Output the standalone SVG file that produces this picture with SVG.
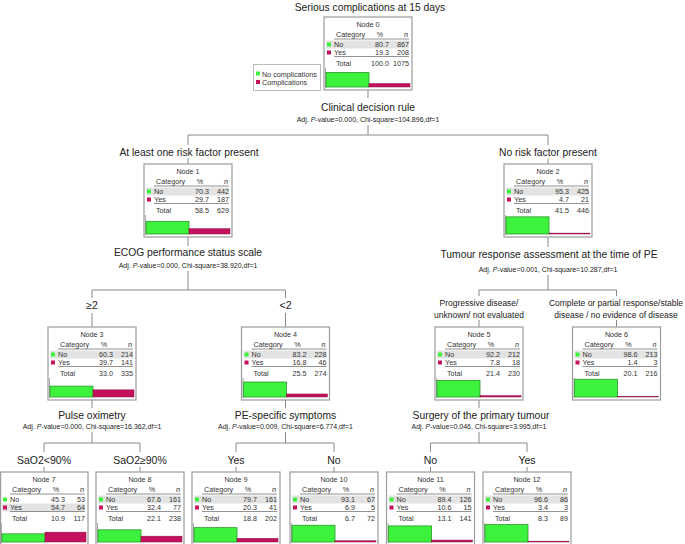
<svg xmlns="http://www.w3.org/2000/svg" width="685" height="544" viewBox="0 0 685 544">
<style>
text{font-family:"Liberation Sans",Arial,Helvetica,sans-serif;fill:#222}
.box{fill:#fff;stroke:#9c9c9c;stroke-width:1.2}
.nt{font-size:7.2px;fill:#333}
.c{text-anchor:middle}
.r{text-anchor:end}
.i{font-style:italic}
.band{fill:#e3e3e3}
.ul{stroke:#777;stroke-width:0.8}
.g{fill:#3df23d;stroke:#2a9a2a;stroke-width:0.8}
.m{fill:#c4115d;stroke:#8a0c42;stroke-width:0.5}
.gs{fill:#3df23d}
.ms{fill:#c4115d}
.ax{stroke:#aaa;stroke-width:1}
#connectors line{stroke:#8a8a8a;stroke-width:1}
.lbl{font-size:10.3px;text-anchor:middle}
.adj{font-size:7px;text-anchor:middle}
.br{font-size:10.5px;text-anchor:middle}
.br2{font-size:8.5px;text-anchor:middle}
</style>

<text class="lbl" x="370" y="11">Serious complications at 15 days</text>

<g id="connectors">
<line x1="368" y1="90" x2="368" y2="98"/>
<line x1="368" y1="125" x2="368" y2="135"/>
<line x1="188" y1="135" x2="548" y2="135"/>
<line x1="188" y1="135" x2="188" y2="145"/>
<line x1="188" y1="158" x2="188" y2="164"/>
<line x1="548" y1="135" x2="548" y2="145"/>
<line x1="548" y1="159" x2="548" y2="164"/>
<line x1="188" y1="237" x2="188" y2="246"/>
<line x1="188" y1="271" x2="188" y2="290"/>
<line x1="92" y1="290" x2="285.5" y2="290"/>
<line x1="92" y1="290" x2="92" y2="298"/>
<line x1="92" y1="313" x2="92" y2="327"/>
<line x1="285.5" y1="290" x2="285.5" y2="298"/>
<line x1="285.5" y1="313" x2="285.5" y2="327"/>
<line x1="548" y1="237" x2="548" y2="247"/>
<line x1="548" y1="275" x2="548" y2="290"/>
<line x1="479" y1="290" x2="616.5" y2="290"/>
<line x1="479" y1="290" x2="479" y2="296"/>
<line x1="479" y1="320" x2="479" y2="327"/>
<line x1="616.5" y1="290" x2="616.5" y2="296"/>
<line x1="616.5" y1="320" x2="616.5" y2="327"/>
<line x1="92" y1="400" x2="92" y2="408"/>
<line x1="92" y1="432" x2="92" y2="443"/>
<line x1="44" y1="443" x2="140" y2="443"/>
<line x1="44" y1="443" x2="44" y2="452"/>
<line x1="44" y1="467" x2="44" y2="472"/>
<line x1="140" y1="443" x2="140" y2="452"/>
<line x1="140" y1="467" x2="140" y2="472"/>
<line x1="285.5" y1="400" x2="285.5" y2="408"/>
<line x1="285.5" y1="432" x2="285.5" y2="443"/>
<line x1="236" y1="443" x2="334" y2="443"/>
<line x1="236" y1="443" x2="236" y2="452"/>
<line x1="236" y1="467" x2="236" y2="472"/>
<line x1="334" y1="443" x2="334" y2="452"/>
<line x1="334" y1="467" x2="334" y2="472"/>
<line x1="479" y1="400" x2="479" y2="408"/>
<line x1="479" y1="432" x2="479" y2="443"/>
<line x1="430.5" y1="443" x2="527" y2="443"/>
<line x1="430.5" y1="443" x2="430.5" y2="452"/>
<line x1="430.5" y1="467" x2="430.5" y2="472"/>
<line x1="527" y1="443" x2="527" y2="452"/>
<line x1="527" y1="467" x2="527" y2="472"/>
</g>

<g id="labels">
<text class="lbl" x="368" y="111">Clinical decision rule</text>
<text class="adj" x="368" y="121.5">Adj. <tspan class="i">P</tspan>-value=0.000, Chi-square=104.896,df=1</text>
<text class="lbl" x="189" y="155.5">At least one risk factor present</text>
<text class="lbl" x="548" y="156">No risk factor present</text>
<text class="lbl" x="188" y="256">ECOG performance status scale</text>
<text class="adj" x="188" y="267.5">Adj. <tspan class="i">P</tspan>-value=0.000, Chi-square=38.920,df=1</text>
<text class="lbl" x="549" y="258">Tumour response assessment at the time of PE</text>
<text class="adj" x="548" y="271.5">Adj. <tspan class="i">P</tspan>-value=0.001, Chi-square=10.287,df=1</text>
<text class="br" x="92" y="309">≥2</text>
<text class="br" x="285.5" y="309">&lt;2</text>
<text class="br2" x="479" y="306">Progressive disease/</text>
<text class="br2" x="479" y="317.5">unknown/ not evaluated</text>
<text class="br2" x="616" y="306">Complete or partial response/stable</text>
<text class="br2" x="616" y="317.5">disease / no evidence of disease</text>
<text class="lbl" x="92" y="419">Pulse oximetry</text>
<text class="adj" x="92" y="428.5">Adj. <tspan class="i">P</tspan>-value=0.000, Chi-square=16.362,df=1</text>
<text class="lbl" x="285.5" y="419">PE-specific symptoms</text>
<text class="adj" x="285.5" y="428.5">Adj. <tspan class="i">P</tspan>-value=0.009, Chi-square=6.774,df=1</text>
<text class="lbl" x="481" y="419">Surgery of the primary tumour</text>
<text class="adj" x="479" y="428.5">Adj. <tspan class="i">P</tspan>-value=0.046, Chi-square=3.995,df=1</text>
<text class="br" x="44" y="464">SaO2&lt;90%</text>
<text class="br" x="140" y="464">SaO2≥90%</text>
<text class="br" x="236" y="464">Yes</text>
<text class="br" x="334" y="464">No</text>
<text class="br" x="430.5" y="464">No</text>
<text class="br" x="527" y="464">Yes</text>
</g>

<g id="legend">
<rect x="253.5" y="64.5" width="67" height="26" fill="#fff" stroke="#bbb" stroke-width="1"/>
<rect class="gs" x="256" y="71.5" width="4" height="4"/>
<text class="nt" x="262" y="76.5">No complications</text>
<rect class="ms" x="256" y="80" width="4" height="4"/>
<text class="nt" x="262" y="84.5">Complications</text>
</g>

<g id="node0" transform="translate(324,17)">
<rect class="box" x="0" y="0" width="88" height="73"/>
<rect class="band" x="2" y="23.5" width="83" height="8"/>
<text class="nt c" x="44" y="10">Node 0</text>
<text class="nt" x="12" y="20">Category</text><text class="nt c" x="56" y="20">%</text><text class="nt r i" x="84" y="20">n</text>
<line class="ul" x1="10" y1="22" x2="85" y2="22"/>
<rect class="gs" x="3" y="25.5" width="4" height="4"/><text class="nt" x="10" y="29.5">No</text><text class="nt r" x="65" y="29.5">80.7</text><text class="nt r" x="85" y="29.5">867</text>
<rect class="ms" x="3" y="33.5" width="4" height="4"/><text class="nt" x="10" y="37.5">Yes</text><text class="nt r" x="65" y="37.5">19.3</text><text class="nt r" x="85" y="37.5">208</text>
<line class="ul" x1="10" y1="39.5" x2="85" y2="39.5"/>
<text class="nt" x="12" y="48.5">Total</text><text class="nt r" x="65" y="48.5">100.0</text><text class="nt r" x="85" y="48.5">1075</text>
<line class="ax" x1="1.5" y1="51" x2="1.5" y2="71"/>
<rect class="g" x="2" y="55.47" width="43" height="14.53"/><rect class="m" x="45" y="66.53" width="41" height="3.47"/>
</g>

<g id="node1" transform="translate(144,164)">
<rect class="box" x="0" y="0" width="88" height="73"/>
<rect class="band" x="2" y="23.5" width="83" height="8"/>
<text class="nt c" x="44" y="10">Node 1</text>
<text class="nt" x="12" y="20">Category</text><text class="nt c" x="56" y="20">%</text><text class="nt r i" x="84" y="20">n</text>
<line class="ul" x1="10" y1="22" x2="85" y2="22"/>
<rect class="gs" x="3" y="25.5" width="4" height="4"/><text class="nt" x="10" y="29.5">No</text><text class="nt r" x="65" y="29.5">70.3</text><text class="nt r" x="85" y="29.5">442</text>
<rect class="ms" x="3" y="33.5" width="4" height="4"/><text class="nt" x="10" y="37.5">Yes</text><text class="nt r" x="65" y="37.5">29.7</text><text class="nt r" x="85" y="37.5">187</text>
<line class="ul" x1="10" y1="39.5" x2="85" y2="39.5"/>
<text class="nt" x="12" y="48.5">Total</text><text class="nt r" x="65" y="48.5">58.5</text><text class="nt r" x="85" y="48.5">629</text>
<line class="ax" x1="1.5" y1="51" x2="1.5" y2="71"/>
<rect class="g" x="2" y="57.35" width="43" height="12.65"/><rect class="m" x="45" y="64.65" width="41" height="5.35"/>
</g>

<g id="node2" transform="translate(504,164)">
<rect class="box" x="0" y="0" width="88" height="73"/>
<rect class="band" x="2" y="23.5" width="83" height="8"/>
<text class="nt c" x="44" y="10">Node 2</text>
<text class="nt" x="12" y="20">Category</text><text class="nt c" x="56" y="20">%</text><text class="nt r i" x="84" y="20">n</text>
<line class="ul" x1="10" y1="22" x2="85" y2="22"/>
<rect class="gs" x="3" y="25.5" width="4" height="4"/><text class="nt" x="10" y="29.5">No</text><text class="nt r" x="65" y="29.5">95.3</text><text class="nt r" x="85" y="29.5">425</text>
<rect class="ms" x="3" y="33.5" width="4" height="4"/><text class="nt" x="10" y="37.5">Yes</text><text class="nt r" x="65" y="37.5">4.7</text><text class="nt r" x="85" y="37.5">21</text>
<line class="ul" x1="10" y1="39.5" x2="85" y2="39.5"/>
<text class="nt" x="12" y="48.5">Total</text><text class="nt r" x="65" y="48.5">41.5</text><text class="nt r" x="85" y="48.5">446</text>
<line class="ax" x1="1.5" y1="51" x2="1.5" y2="71"/>
<rect class="g" x="2" y="52.85" width="43" height="17.15"/><rect class="m" x="45" y="69.1" width="41" height="0.9"/>
</g>

<g id="node3" transform="translate(48,327)">
<rect class="box" x="0" y="0" width="88" height="73"/>
<rect class="band" x="2" y="23.5" width="83" height="8"/>
<text class="nt c" x="44" y="10">Node 3</text>
<text class="nt" x="12" y="20">Category</text><text class="nt c" x="56" y="20">%</text><text class="nt r i" x="84" y="20">n</text>
<line class="ul" x1="10" y1="22" x2="85" y2="22"/>
<rect class="gs" x="3" y="25.5" width="4" height="4"/><text class="nt" x="10" y="29.5">No</text><text class="nt r" x="65" y="29.5">60.3</text><text class="nt r" x="85" y="29.5">214</text>
<rect class="ms" x="3" y="33.5" width="4" height="4"/><text class="nt" x="10" y="37.5">Yes</text><text class="nt r" x="65" y="37.5">39.7</text><text class="nt r" x="85" y="37.5">141</text>
<line class="ul" x1="10" y1="39.5" x2="85" y2="39.5"/>
<text class="nt" x="12" y="48.5">Total</text><text class="nt r" x="65" y="48.5">33.0</text><text class="nt r" x="85" y="48.5">335</text>
<line class="ax" x1="1.5" y1="51" x2="1.5" y2="71"/>
<rect class="g" x="2" y="59.15" width="43" height="10.85"/><rect class="m" x="45" y="62.85" width="41" height="7.15"/>
</g>

<g id="node4" transform="translate(241.5,327)">
<rect class="box" x="0" y="0" width="88" height="73"/>
<rect class="band" x="2" y="23.5" width="83" height="8"/>
<text class="nt c" x="44" y="10">Node 4</text>
<text class="nt" x="12" y="20">Category</text><text class="nt c" x="56" y="20">%</text><text class="nt r i" x="84" y="20">n</text>
<line class="ul" x1="10" y1="22" x2="85" y2="22"/>
<rect class="gs" x="3" y="25.5" width="4" height="4"/><text class="nt" x="10" y="29.5">No</text><text class="nt r" x="65" y="29.5">83.2</text><text class="nt r" x="85" y="29.5">228</text>
<rect class="ms" x="3" y="33.5" width="4" height="4"/><text class="nt" x="10" y="37.5">Yes</text><text class="nt r" x="65" y="37.5">16.8</text><text class="nt r" x="85" y="37.5">46</text>
<line class="ul" x1="10" y1="39.5" x2="85" y2="39.5"/>
<text class="nt" x="12" y="48.5">Total</text><text class="nt r" x="65" y="48.5">25.5</text><text class="nt r" x="85" y="48.5">274</text>
<line class="ax" x1="1.5" y1="51" x2="1.5" y2="71"/>
<rect class="g" x="2" y="55.02" width="43" height="14.98"/><rect class="m" x="45" y="66.98" width="41" height="3.02"/>
</g>

<g id="node5" transform="translate(435,327)">
<rect class="box" x="0" y="0" width="88" height="73"/>
<rect class="band" x="2" y="23.5" width="83" height="8"/>
<text class="nt c" x="44" y="10">Node 5</text>
<text class="nt" x="12" y="20">Category</text><text class="nt c" x="56" y="20">%</text><text class="nt r i" x="84" y="20">n</text>
<line class="ul" x1="10" y1="22" x2="85" y2="22"/>
<rect class="gs" x="3" y="25.5" width="4" height="4"/><text class="nt" x="10" y="29.5">No</text><text class="nt r" x="65" y="29.5">92.2</text><text class="nt r" x="85" y="29.5">212</text>
<rect class="ms" x="3" y="33.5" width="4" height="4"/><text class="nt" x="10" y="37.5">Yes</text><text class="nt r" x="65" y="37.5">7.8</text><text class="nt r" x="85" y="37.5">18</text>
<line class="ul" x1="10" y1="39.5" x2="85" y2="39.5"/>
<text class="nt" x="12" y="48.5">Total</text><text class="nt r" x="65" y="48.5">21.4</text><text class="nt r" x="85" y="48.5">230</text>
<line class="ax" x1="1.5" y1="51" x2="1.5" y2="71"/>
<rect class="g" x="2" y="53.4" width="43" height="16.6"/><rect class="m" x="45" y="68.6" width="41" height="1.4"/>
</g>

<g id="node6" transform="translate(572.5,327)">
<rect class="box" x="0" y="0" width="88" height="73"/>
<rect class="band" x="2" y="23.5" width="83" height="8"/>
<text class="nt c" x="44" y="10">Node 6</text>
<text class="nt" x="12" y="20">Category</text><text class="nt c" x="56" y="20">%</text><text class="nt r i" x="84" y="20">n</text>
<line class="ul" x1="10" y1="22" x2="85" y2="22"/>
<rect class="gs" x="3" y="25.5" width="4" height="4"/><text class="nt" x="10" y="29.5">No</text><text class="nt r" x="65" y="29.5">98.6</text><text class="nt r" x="85" y="29.5">213</text>
<rect class="ms" x="3" y="33.5" width="4" height="4"/><text class="nt" x="10" y="37.5">Yes</text><text class="nt r" x="65" y="37.5">1.4</text><text class="nt r" x="85" y="37.5">3</text>
<line class="ul" x1="10" y1="39.5" x2="85" y2="39.5"/>
<text class="nt" x="12" y="48.5">Total</text><text class="nt r" x="65" y="48.5">20.1</text><text class="nt r" x="85" y="48.5">216</text>
<line class="ax" x1="1.5" y1="51" x2="1.5" y2="71"/>
<rect class="g" x="2" y="52.25" width="43" height="17.75"/><rect class="m" x="45" y="69.4" width="41" height="0.6"/>
</g>

<g id="node7" transform="translate(0,472)">
<rect class="box" x="0.6" y="0" width="87.4" height="73"/>
<rect class="band" x="2" y="31.5" width="83" height="8"/>
<text class="nt c" x="44" y="10">Node 7</text>
<text class="nt" x="12" y="20">Category</text><text class="nt c" x="56" y="20">%</text><text class="nt r i" x="84" y="20">n</text>
<line class="ul" x1="10" y1="22" x2="85" y2="22"/>
<rect class="gs" x="3" y="25.5" width="4" height="4"/><text class="nt" x="10" y="29.5">No</text><text class="nt r" x="65" y="29.5">45.3</text><text class="nt r" x="85" y="29.5">53</text>
<rect class="ms" x="3" y="33.5" width="4" height="4"/><text class="nt" x="10" y="37.5">Yes</text><text class="nt r" x="65" y="37.5">54.7</text><text class="nt r" x="85" y="37.5">64</text>
<line class="ul" x1="10" y1="39.5" x2="85" y2="39.5"/>
<text class="nt" x="12" y="48.5">Total</text><text class="nt r" x="65" y="48.5">10.9</text><text class="nt r" x="85" y="48.5">117</text>
<line class="ax" x1="1.5" y1="51" x2="1.5" y2="71"/>
<rect class="g" x="2" y="61.85" width="43" height="8.15"/><rect class="m" x="45" y="60.15" width="41" height="9.85"/>
</g>

<g id="node8" transform="translate(96,472)">
<rect class="box" x="0" y="0" width="88" height="73"/>
<rect class="band" x="2" y="23.5" width="83" height="8"/>
<text class="nt c" x="44" y="10">Node 8</text>
<text class="nt" x="12" y="20">Category</text><text class="nt c" x="56" y="20">%</text><text class="nt r i" x="84" y="20">n</text>
<line class="ul" x1="10" y1="22" x2="85" y2="22"/>
<rect class="gs" x="3" y="25.5" width="4" height="4"/><text class="nt" x="10" y="29.5">No</text><text class="nt r" x="65" y="29.5">67.6</text><text class="nt r" x="85" y="29.5">161</text>
<rect class="ms" x="3" y="33.5" width="4" height="4"/><text class="nt" x="10" y="37.5">Yes</text><text class="nt r" x="65" y="37.5">32.4</text><text class="nt r" x="85" y="37.5">77</text>
<line class="ul" x1="10" y1="39.5" x2="85" y2="39.5"/>
<text class="nt" x="12" y="48.5">Total</text><text class="nt r" x="65" y="48.5">22.1</text><text class="nt r" x="85" y="48.5">238</text>
<line class="ax" x1="1.5" y1="51" x2="1.5" y2="71"/>
<rect class="g" x="2" y="57.83" width="43" height="12.17"/><rect class="m" x="45" y="64.17" width="41" height="5.83"/>
</g>

<g id="node9" transform="translate(192,472)">
<rect class="box" x="0" y="0" width="88" height="73"/>
<rect class="band" x="2" y="23.5" width="83" height="8"/>
<text class="nt c" x="44" y="10">Node 9</text>
<text class="nt" x="12" y="20">Category</text><text class="nt c" x="56" y="20">%</text><text class="nt r i" x="84" y="20">n</text>
<line class="ul" x1="10" y1="22" x2="85" y2="22"/>
<rect class="gs" x="3" y="25.5" width="4" height="4"/><text class="nt" x="10" y="29.5">No</text><text class="nt r" x="65" y="29.5">79.7</text><text class="nt r" x="85" y="29.5">161</text>
<rect class="ms" x="3" y="33.5" width="4" height="4"/><text class="nt" x="10" y="37.5">Yes</text><text class="nt r" x="65" y="37.5">20.3</text><text class="nt r" x="85" y="37.5">41</text>
<line class="ul" x1="10" y1="39.5" x2="85" y2="39.5"/>
<text class="nt" x="12" y="48.5">Total</text><text class="nt r" x="65" y="48.5">18.8</text><text class="nt r" x="85" y="48.5">202</text>
<line class="ax" x1="1.5" y1="51" x2="1.5" y2="71"/>
<rect class="g" x="2" y="55.65" width="43" height="14.35"/><rect class="m" x="45" y="66.35" width="41" height="3.65"/>
</g>

<g id="node10" transform="translate(290,472)">
<rect class="box" x="0" y="0" width="88" height="73"/>
<rect class="band" x="2" y="23.5" width="83" height="8"/>
<text class="nt c" x="44" y="10">Node 10</text>
<text class="nt" x="12" y="20">Category</text><text class="nt c" x="56" y="20">%</text><text class="nt r i" x="84" y="20">n</text>
<line class="ul" x1="10" y1="22" x2="85" y2="22"/>
<rect class="gs" x="3" y="25.5" width="4" height="4"/><text class="nt" x="10" y="29.5">No</text><text class="nt r" x="65" y="29.5">93.1</text><text class="nt r" x="85" y="29.5">67</text>
<rect class="ms" x="3" y="33.5" width="4" height="4"/><text class="nt" x="10" y="37.5">Yes</text><text class="nt r" x="65" y="37.5">6.9</text><text class="nt r" x="85" y="37.5">5</text>
<line class="ul" x1="10" y1="39.5" x2="85" y2="39.5"/>
<text class="nt" x="12" y="48.5">Total</text><text class="nt r" x="65" y="48.5">6.7</text><text class="nt r" x="85" y="48.5">72</text>
<line class="ax" x1="1.5" y1="51" x2="1.5" y2="71"/>
<rect class="g" x="2" y="53.24" width="43" height="16.76"/><rect class="m" x="45" y="68.76" width="41" height="1.24"/>
</g>

<g id="node11" transform="translate(386.5,472)">
<rect class="box" x="0" y="0" width="88" height="73"/>
<rect class="band" x="2" y="23.5" width="83" height="8"/>
<text class="nt c" x="44" y="10">Node 11</text>
<text class="nt" x="12" y="20">Category</text><text class="nt c" x="56" y="20">%</text><text class="nt r i" x="84" y="20">n</text>
<line class="ul" x1="10" y1="22" x2="85" y2="22"/>
<rect class="gs" x="3" y="25.5" width="4" height="4"/><text class="nt" x="10" y="29.5">No</text><text class="nt r" x="65" y="29.5">89.4</text><text class="nt r" x="85" y="29.5">126</text>
<rect class="ms" x="3" y="33.5" width="4" height="4"/><text class="nt" x="10" y="37.5">Yes</text><text class="nt r" x="65" y="37.5">10.6</text><text class="nt r" x="85" y="37.5">15</text>
<line class="ul" x1="10" y1="39.5" x2="85" y2="39.5"/>
<text class="nt" x="12" y="48.5">Total</text><text class="nt r" x="65" y="48.5">13.1</text><text class="nt r" x="85" y="48.5">141</text>
<line class="ax" x1="1.5" y1="51" x2="1.5" y2="71"/>
<rect class="g" x="2" y="53.91" width="43" height="16.09"/><rect class="m" x="45" y="68.09" width="41" height="1.91"/>
</g>

<g id="node12" transform="translate(483,472)">
<rect class="box" x="0" y="0" width="88" height="73"/>
<rect class="band" x="2" y="23.5" width="83" height="8"/>
<text class="nt c" x="44" y="10">Node 12</text>
<text class="nt" x="12" y="20">Category</text><text class="nt c" x="56" y="20">%</text><text class="nt r i" x="84" y="20">n</text>
<line class="ul" x1="10" y1="22" x2="85" y2="22"/>
<rect class="gs" x="3" y="25.5" width="4" height="4"/><text class="nt" x="10" y="29.5">No</text><text class="nt r" x="65" y="29.5">96.6</text><text class="nt r" x="85" y="29.5">86</text>
<rect class="ms" x="3" y="33.5" width="4" height="4"/><text class="nt" x="10" y="37.5">Yes</text><text class="nt r" x="65" y="37.5">3.4</text><text class="nt r" x="85" y="37.5">3</text>
<line class="ul" x1="10" y1="39.5" x2="85" y2="39.5"/>
<text class="nt" x="12" y="48.5">Total</text><text class="nt r" x="65" y="48.5">8.3</text><text class="nt r" x="85" y="48.5">89</text>
<line class="ax" x1="1.5" y1="51" x2="1.5" y2="71"/>
<rect class="g" x="2" y="52.61" width="43" height="17.39"/><rect class="m" x="45" y="69.2" width="41" height="0.8"/>
</g>
</svg>
